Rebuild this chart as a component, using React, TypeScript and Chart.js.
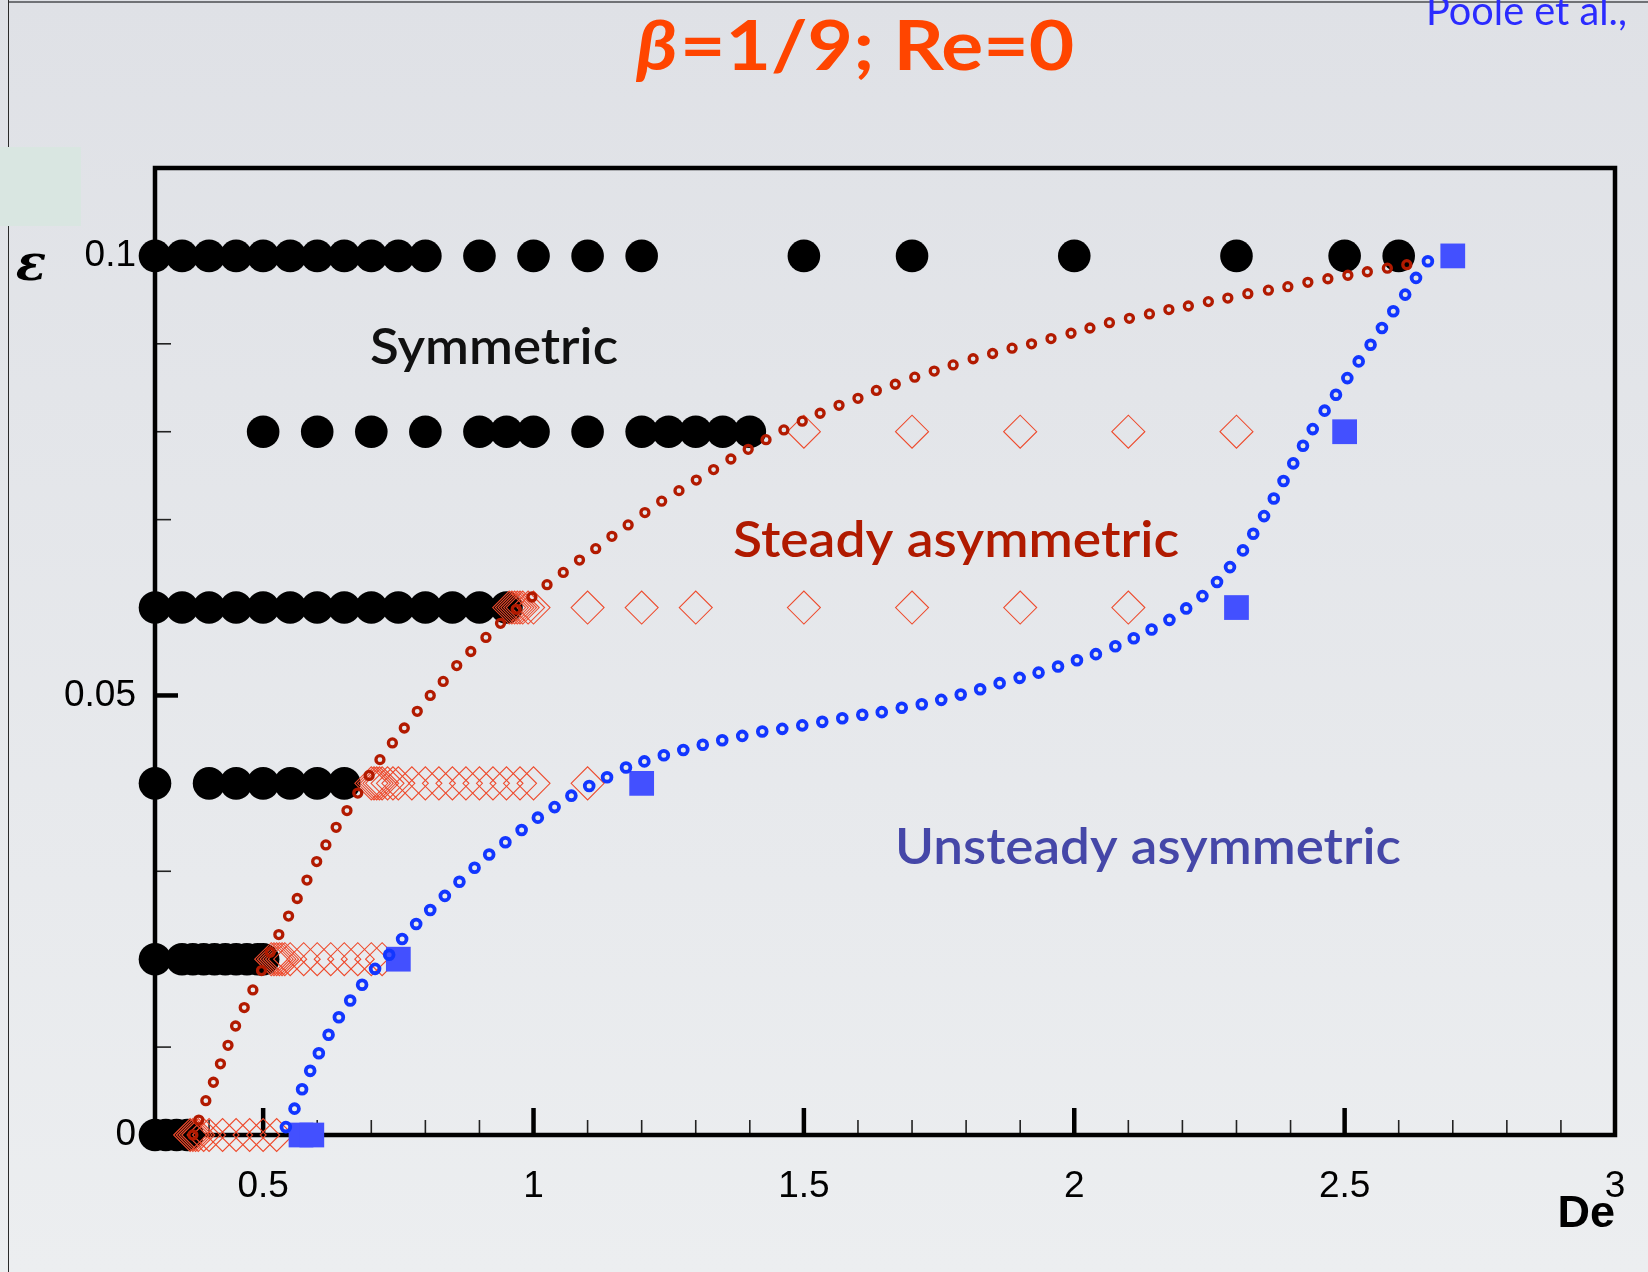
import React, { useEffect, useRef } from 'react';
import { Chart, registerables } from 'chart.js';

Chart.register(...registerables);

const W = 1648;
const H = 1272;

// ---------- axes ----------
const X_MIN = 0.3;
const X_MAX = 3;
const Y_MIN = 0;
const Y_MAX = 0.11;
const xTickValues = [0.5, 1, 1.5, 2, 2.5, 3];
const xTickLabels = ['0.5', '1', '1.5', '2', '2.5', '3'];
const yTickValues = [0, 0.05, 0.1];
const yTickLabels = ['0', '0.05', '0.1'];
const xMajorMarks = [0.5, 1, 1.5, 2, 2.5];
const xMinorMarks = [0.4, 0.6, 0.7, 0.8, 0.9, 1.1, 1.2, 1.3, 1.4, 1.6, 1.7, 1.8, 1.9, 2.1, 2.2, 2.3, 2.4, 2.6, 2.7, 2.8, 2.9];
const yMajorMarks = [0.05, 0.1];
const yMinorMarks = [0.01, 0.02, 0.03, 0.04, 0.06, 0.07, 0.08, 0.09];

// ---------- symmetric states (filled black circles) ----------
const symDeAtEps000 = [0.30, 0.32, 0.34, 0.36];
const symDeAtEps002 = [0.30, 0.35, 0.37, 0.39, 0.41, 0.43, 0.45, 0.47, 0.49, 0.50];
const symDeAtEps004 = [0.30, 0.40, 0.45, 0.50, 0.55, 0.60, 0.65];
const symDeAtEps006 = [0.30, 0.35, 0.40, 0.45, 0.50, 0.55, 0.60, 0.65, 0.70, 0.75, 0.80, 0.85, 0.90, 0.95];
const symDeAtEps008 = [0.50, 0.60, 0.70, 0.80, 0.90, 0.95, 1.00, 1.10, 1.20, 1.25, 1.30, 1.35, 1.40];
const symDeAtEps010 = [0.30, 0.35, 0.40, 0.45, 0.50, 0.55, 0.60, 0.65, 0.70, 0.75, 0.80, 0.90, 1.00, 1.10, 1.20, 1.50, 1.70, 2.00, 2.30, 2.50, 2.60];

// ---------- steady asymmetric states (open red diamonds) ----------
const steadyDeAtEps000 = [0.365, 0.37, 0.375, 0.38, 0.39, 0.40, 0.425, 0.45, 0.475, 0.50, 0.525];
const steadyDeAtEps002 = [0.515, 0.52, 0.525, 0.53, 0.535, 0.54, 0.55, 0.575, 0.60, 0.625, 0.65, 0.675, 0.70, 0.72];
const steadyDeAtEps004 = [0.70, 0.705, 0.71, 0.715, 0.72, 0.73, 0.74, 0.75, 0.775, 0.80, 0.825, 0.85, 0.875, 0.90, 0.925, 0.95, 0.975, 1.00, 1.10];
const steadyDeAtEps006 = [0.955, 0.96, 0.965, 0.97, 0.975, 0.98, 0.99, 1.00, 1.10, 1.20, 1.30, 1.50, 1.70, 1.90, 2.10];
const steadyDeAtEps008 = [1.50, 1.70, 1.90, 2.10, 2.30];

// ---------- unsteady asymmetric states (filled blue squares) ----------
const unsteadyDe = [0.57, 0.59, 0.75, 1.20, 2.30, 2.50, 2.70];
const unsteadyEps = [0, 0, 0.02, 0.04, 0.06, 0.08, 0.10];

// ---------- symmetric / steady boundary (red open circles) ----------
const steadyBoundaryDe = [
  0.370, 0.381, 0.394, 0.408, 0.421, 0.435, 0.449, 0.465, 0.481, 0.497, 0.513, 0.529, 0.547,
  0.563, 0.581, 0.599, 0.616, 0.635, 0.655, 0.675, 0.696, 0.716, 0.739, 0.761, 0.785,
  0.809, 0.833, 0.858, 0.884, 0.912, 0.939, 0.968, 0.997, 1.025, 1.055, 1.085, 1.115,
  1.145, 1.175, 1.206, 1.237, 1.269, 1.301, 1.333, 1.365, 1.397, 1.430, 1.463, 1.497,
  1.530, 1.565, 1.600, 1.634, 1.669, 1.705, 1.741, 1.776, 1.813, 1.849, 1.885,
  1.921, 1.957, 1.994, 2.029, 2.065, 2.102, 2.139, 2.175, 2.211, 2.248, 2.284, 2.321,
  2.359, 2.395, 2.432, 2.469, 2.506, 2.542, 2.579, 2.615,
];
const steadyBoundaryEps = [
  0.0000, 0.0017, 0.0039, 0.0060, 0.0081, 0.0102, 0.0124, 0.0145, 0.0165, 0.0187, 0.0208, 0.0228, 0.0249,
  0.0269, 0.0290, 0.0311, 0.0330, 0.0350, 0.0369, 0.0389, 0.0409, 0.0427, 0.0446, 0.0463, 0.0482,
  0.0500, 0.0516, 0.0534, 0.0550, 0.0566, 0.0582, 0.0598, 0.0612, 0.0626, 0.0640, 0.0654, 0.0667,
  0.0681, 0.0694, 0.0708, 0.0721, 0.0733, 0.0745, 0.0757, 0.0769, 0.0780, 0.0791, 0.0802, 0.0812,
  0.0821, 0.0830, 0.0838, 0.0847, 0.0854, 0.0862, 0.0869, 0.0876, 0.0883, 0.0889, 0.0895,
  0.0900, 0.0906, 0.0912, 0.0918, 0.0924, 0.0929, 0.0934, 0.0939, 0.0943, 0.0948, 0.0952, 0.0957,
  0.0961, 0.0965, 0.0970, 0.0974, 0.0978, 0.0982, 0.0986, 0.0990,
];

// ---------- steady / unsteady boundary (blue open circles) ----------
const unsteadyBoundaryDe = [
  0.542, 0.558, 0.572, 0.587, 0.603, 0.621, 0.640, 0.661, 0.683, 0.707, 0.733, 0.757, 0.783,
  0.809, 0.836, 0.863, 0.891, 0.918, 0.948, 0.978, 1.008, 1.039, 1.070, 1.103, 1.136, 1.171,
  1.205, 1.241, 1.277, 1.313, 1.349, 1.386, 1.423, 1.460, 1.497, 1.534, 1.571, 1.608, 1.644,
  1.681, 1.718, 1.754, 1.790, 1.826, 1.862, 1.899, 1.934, 1.970, 2.005, 2.040, 2.076, 2.110,
  2.143, 2.176, 2.207, 2.237, 2.264, 2.288, 2.312, 2.331, 2.351, 2.369, 2.387, 2.405, 2.423,
  2.441, 2.463, 2.484, 2.505, 2.526, 2.548, 2.569, 2.590, 2.612, 2.632, 2.654,
];
const unsteadyBoundaryEps = [
  0.0009, 0.0030, 0.0052, 0.0073, 0.0093, 0.0114, 0.0134, 0.0153, 0.0171, 0.0189, 0.0205, 0.0223, 0.0240,
  0.0256, 0.0272, 0.0288, 0.0304, 0.0319, 0.0333, 0.0347, 0.0361, 0.0373, 0.0386, 0.0397, 0.0407, 0.0418,
  0.0425, 0.0432, 0.0438, 0.0444, 0.0449, 0.0454, 0.0459, 0.0462, 0.0466, 0.0470, 0.0474, 0.0478, 0.0481,
  0.0486, 0.0490, 0.0495, 0.0501, 0.0507, 0.0514, 0.0520, 0.0526, 0.0533, 0.0540, 0.0547, 0.0556, 0.0565,
  0.0575, 0.0586, 0.0599, 0.0613, 0.0629, 0.0646, 0.0665, 0.0684, 0.0704, 0.0724, 0.0744, 0.0764, 0.0784,
  0.0803, 0.0824, 0.0842, 0.0861, 0.0880, 0.0899, 0.0918, 0.0937, 0.0956, 0.0975, 0.0994,
];

const rowEps = [0, 0.02, 0.04, 0.06, 0.08, 0.1];
const symRows = [symDeAtEps000, symDeAtEps002, symDeAtEps004, symDeAtEps006, symDeAtEps008, symDeAtEps010];
const steadyRows = [steadyDeAtEps000, steadyDeAtEps002, steadyDeAtEps004, steadyDeAtEps006, steadyDeAtEps008];

const rowsToPoints = (rows: number[][]) =>
  rows.flatMap((des, i) => des.map((x) => ({ x, y: rowEps[i] })));
const pairsToPoints = (xs: number[], ys: number[]) => xs.map((x, i) => ({ x, y: ys[i] }));

// ---------- layout ----------
const AREA_LEFT = 155;
const AREA_RIGHT = 1615;
const AREA_TOP = 168;
const AREA_BOTTOM = 1135;

const fitText = (
  ctx: CanvasRenderingContext2D,
  text: string,
  font: string,
  color: string,
  left: number,
  baseline: number,
  width: number,
) => {
  ctx.save();
  ctx.font = font;
  ctx.fillStyle = color;
  ctx.textAlign = 'left';
  ctx.textBaseline = 'alphabetic';
  const w = ctx.measureText(text).width;
  ctx.translate(left, baseline);
  ctx.scale(width / w, 1);
  ctx.fillText(text, 0, 0);
  ctx.restore();
};

const decorPlugin = {
  id: 'decor',
  beforeDraw(chart: any) {
    const { ctx, width, height } = chart;
    ctx.save();
    const g = ctx.createLinearGradient(0, 0, 0, height);
    g.addColorStop(0, '#dfe1e6');
    g.addColorStop(1, '#eceef0');
    ctx.fillStyle = g;
    ctx.fillRect(0, 0, width, height);
    // thin slide frame lines
    ctx.fillStyle = '#707276';
    ctx.fillRect(8, 1, width - 8, 2);
    ctx.fillStyle = '#2a2a2a';
    ctx.fillRect(8, 0, 1, height);
    // pale box top-left
    ctx.fillStyle = '#d9e6e1';
    ctx.fillRect(0, 147, 81, 79);
    ctx.restore();
  },
  beforeDatasetsDraw(chart: any) {
    const { ctx, chartArea } = chart;
    const xs = chart.scales.x;
    const ys = chart.scales.y;
    const { left, right, top, bottom } = chartArea;
    ctx.save();
    ctx.strokeStyle = '#000';
    // ticks (inside)
    ctx.lineWidth = 4.5;
    xMajorMarks.forEach((v) => {
      const px = xs.getPixelForValue(v);
      ctx.beginPath();
      ctx.moveTo(px, bottom);
      ctx.lineTo(px, bottom - 27);
      ctx.stroke();
    });
    yMajorMarks.forEach((v) => {
      const py = ys.getPixelForValue(v);
      ctx.beginPath();
      ctx.moveTo(left, py);
      ctx.lineTo(left + 23, py);
      ctx.stroke();
    });
    ctx.lineWidth = 1.6;
    ctx.strokeStyle = '#222';
    xMinorMarks.forEach((v) => {
      const px = xs.getPixelForValue(v);
      ctx.beginPath();
      ctx.moveTo(px, bottom);
      ctx.lineTo(px, bottom - 15);
      ctx.stroke();
    });
    yMinorMarks.forEach((v) => {
      const py = ys.getPixelForValue(v);
      ctx.beginPath();
      ctx.moveTo(left, py);
      ctx.lineTo(left + 16, py);
      ctx.stroke();
    });
    // frame
    ctx.strokeStyle = '#000';
    ctx.lineWidth = 4.5;
    ctx.strokeRect(left, top, right - left, bottom - top);
    ctx.restore();
  },
  afterDraw(chart: any) {
    const { ctx } = chart;
    // Title: beta italic + rest bold
    ctx.save();
    const tFontI = 'italic bold 68px Lato';
    const tFontB = 'bold 68px Lato';
    ctx.font = tFontI;
    const wb = ctx.measureText('β').width;
    ctx.font = tFontB;
    const wr = ctx.measureText('=1/9; Re=0').width;
    const target = 436;
    const s = target / (wb + wr);
    ctx.translate(636, 70);
    ctx.scale(s, 1);
    ctx.fillStyle = '#ff4500';
    ctx.textBaseline = 'alphabetic';
    ctx.font = tFontI;
    ctx.fillText('β', 0, 0);
    ctx.font = tFontB;
    ctx.fillText('=1/9; Re=0', wb + 2, 0);
    ctx.restore();

    fitText(ctx, 'Poole et al.,', '40px Lato', '#2b2bff', 1426, 25, 201);

    // y-axis symbol
    ctx.save();
    ctx.font = 'italic bold 50px "DejaVu Serif"';
    ctx.fillStyle = '#000';
    ctx.textAlign = 'center';
    ctx.textBaseline = 'alphabetic';
    ctx.fillText('ε', 31, 280);
    ctx.restore();

    // region labels
    fitText(ctx, 'Symmetric', '600 50px Lato', '#111111', 370, 364, 248);
    fitText(ctx, 'Steady asymmetric', '600 50px Lato', '#b01a00', 733, 557, 446);
    fitText(ctx, 'Unsteady asymmetric', '600 50px Lato', '#4547a8', 895, 864, 506);
  },
};

export default function App() {
  const ref = useRef<HTMLCanvasElement>(null);

  useEffect(() => {
    const canvas = ref.current;
    if (!canvas) return;
    const chart = new Chart(canvas, {
      type: 'scatter',
      data: {
        datasets: [
          {
            label: 'steady/unsteady boundary',
            data: pairsToPoints(unsteadyBoundaryDe, unsteadyBoundaryEps),
            pointStyle: 'circle',
            pointRadius: 4.4,
            pointBorderWidth: 3.8,
            borderColor: '#1236ff',
            backgroundColor: 'rgba(0,0,0,0)',
            showLine: false,
            clip: false,
            order: 0,
          },
          {
            label: 'symmetric/steady boundary',
            data: pairsToPoints(steadyBoundaryDe, steadyBoundaryEps),
            pointStyle: 'circle',
            pointRadius: 4,
            pointBorderWidth: 3.3,
            borderColor: '#b21a00',
            backgroundColor: 'rgba(0,0,0,0)',
            showLine: false,
            clip: false,
            order: 1,
          },
          {
            label: 'Unsteady asymmetric',
            data: pairsToPoints(unsteadyDe, unsteadyEps),
            pointStyle: 'rect',
            pointRadius: 17.5,
            pointBorderWidth: 0,
            borderColor: 'rgba(0,0,0,0)',
            backgroundColor: '#4350ff',
            showLine: false,
            clip: false,
            order: 2,
          },
          {
            label: 'Steady asymmetric',
            data: rowsToPoints(steadyRows),
            pointStyle: 'rectRot',
            pointRadius: 16.5,
            pointBorderWidth: 1.1,
            borderColor: '#ee4a2c',
            backgroundColor: 'rgba(0,0,0,0)',
            showLine: false,
            clip: false,
            order: 3,
          },
          {
            label: 'Symmetric',
            data: rowsToPoints(symRows),
            pointStyle: 'circle',
            pointRadius: 16.3,
            pointBorderWidth: 0,
            borderColor: '#000',
            backgroundColor: '#000',
            showLine: false,
            clip: false,
            order: 4,
          },
        ],
      },
      options: {
        responsive: false,
        animation: false,
        devicePixelRatio: 1,
        events: [],
        layout: {
          autoPadding: false,
          padding: { left: 0, top: AREA_TOP, right: W - AREA_RIGHT, bottom: 0 },
        },
        plugins: {
          legend: { display: false },
          tooltip: { enabled: false },
          title: { display: false },
        },
        scales: {
          x: {
            type: 'linear',
            min: X_MIN,
            max: X_MAX,
            afterBuildTicks: (s: any) => {
              s.ticks = xTickValues.map((v) => ({ value: v }));
            },
            afterFit: (s: any) => {
              s.height = H - AREA_BOTTOM;
              s.paddingLeft = 0;
              s.paddingRight = 0;
            },
            ticks: {
              callback: (_v: any, i: number) => xTickLabels[i],
              font: { family: '"Liberation Sans", Arial, sans-serif', size: 37 },
              color: '#000',
              padding: 30,
              maxRotation: 0,
              autoSkip: false,
            },
            grid: { display: false, drawTicks: false },
            border: { display: false },
            title: {
              display: true,
              text: 'De',
              align: 'end',
              color: '#000',
              font: { family: '"Liberation Sans", Arial, sans-serif', size: 45, weight: 'bold' },
              padding: { top: 0, bottom: 30 },
            },
          },
          y: {
            type: 'linear',
            min: Y_MIN,
            max: Y_MAX,
            afterBuildTicks: (s: any) => {
              s.ticks = yTickValues.map((v) => ({ value: v }));
            },
            afterFit: (s: any) => {
              s.width = AREA_LEFT;
              s.paddingTop = 0;
              s.paddingBottom = 0;
            },
            ticks: {
              callback: (_v: any, i: number) => yTickLabels[i],
              font: { family: '"Liberation Sans", Arial, sans-serif', size: 37 },
              color: '#000',
              padding: 19,
              autoSkip: false,
            },
            grid: { display: false, drawTicks: false },
            border: { display: false },
          },
        },
      },
      plugins: [decorPlugin],
    } as any);
    return () => chart.destroy();
  }, []);

  return (
    <div style={{ position: 'absolute', left: 0, top: 0, width: W, height: H }}>
      <canvas ref={ref} width={W} height={H} style={{ display: 'block', width: W, height: H }} />
    </div>
  );
}
